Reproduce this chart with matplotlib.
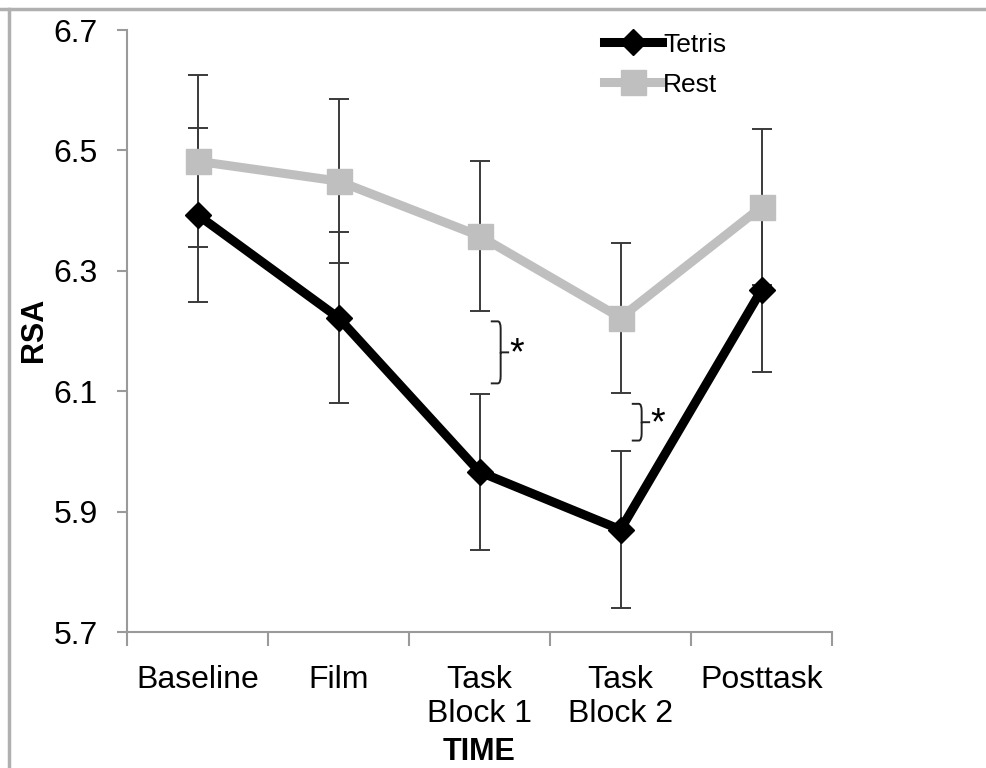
import matplotlib.pyplot as plt
from matplotlib.lines import Line2D
from matplotlib.path import Path
from matplotlib.patches import PathPatch
import numpy as np

plt.rcParams['font.family'] = ['Liberation Sans', 'DejaVu Sans']

# data
phases = ['Baseline', 'Film', 'Task\nBlock 1', 'Task\nBlock 2', 'Posttask']
tetris = [6.393, 6.222, 5.966, 5.870, 6.268]
tetris_err = [0.145, 0.142, 0.129, 0.130, 0.136]
rest = [6.482, 6.449, 6.358, 6.222, 6.406]
rest_err = [0.143, 0.136, 0.124, 0.125, 0.130]
sig_idx = [2, 3]  # phases with a significant difference

x = np.arange(1, len(phases) + 1)

fig = plt.figure(figsize=(9.87, 7.68), dpi=100)
ax = fig.add_axes([127 / 987, 1 - 632 / 768, (832 - 127) / 987, (632 - 30) / 768])

ebar = dict(fmt='none', ecolor='#3a3a3a', elinewidth=1.4, capsize=7, capthick=1.4, zorder=1)
ax.errorbar(x, rest, yerr=rest_err, **ebar)
ax.errorbar(x, tetris, yerr=tetris_err, **ebar)

ax.plot(x, rest, color='#bfbfbf', lw=6.5, marker='s', ms=18, mec='#bfbfbf',
        label='Rest', zorder=2, solid_joinstyle='miter')
ax.plot(x, tetris, color='black', lw=6.5, marker='D', ms=13, label='Tetris',
        zorder=3, solid_joinstyle='miter')

# significance braces between the error bars
for i in sig_idx:
    top = rest[i] - rest_err[i] - 0.018
    bot = tetris[i] + tetris_err[i] + 0.018
    mid = (top + bot) / 2
    xl = x[i] + 0.08
    xr = x[i] + 0.15
    r = 0.012
    verts = [(xl, top), (xr - 0.02, top), (xr, top), (xr, top - r),
             (xr, mid), (xr + 0.06, mid), (xr, mid),
             (xr, bot + r), (xr, bot), (xr - 0.02, bot), (xl, bot)]
    codes = [Path.MOVETO, Path.LINETO, Path.CURVE3, Path.CURVE3,
             Path.LINETO, Path.LINETO, Path.MOVETO,
             Path.LINETO, Path.CURVE3, Path.CURVE3, Path.LINETO]
    ax.add_patch(PathPatch(Path(verts, codes), fill=False, ec='#222222', lw=1.4, zorder=4))
    ax.text(xr + 0.065, mid - 0.004, '*', fontsize=27, ha='left', va='center')

ax.set_xlim(0.5, len(phases) + 0.5)
ax.set_ylim(5.7, 6.7)
ax.set_yticks([5.7, 5.9, 6.1, 6.3, 6.5, 6.7])
ax.set_yticklabels(['5.7', '5.9', '6.1', '6.3', '6.5', '6.7'])
ax.set_xticks(x)
ax.set_xticklabels(phases, linespacing=1.15)
ax.set_xticks(np.arange(0.5, len(phases) + 1, 1), minor=True)

for s in ['top', 'right']:
    ax.spines[s].set_visible(False)
for s in ['left', 'bottom']:
    ax.spines[s].set_color('#9a9a9a')
    ax.spines[s].set_linewidth(1.5)

ax.tick_params(axis='y', labelsize=23, length=7, width=1.5, color='#9a9a9a', pad=14)
ax.tick_params(axis='x', which='major', labelsize=23, length=0, pad=24)
ax.tick_params(axis='x', which='minor', length=10, width=1.5, color='#9a9a9a')

ax.set_ylabel('RSA', fontsize=22, fontweight='bold', va='center')
ax.yaxis.set_label_coords(-0.132, 0.502)
ax.set_xlabel('TIME', fontsize=22, fontweight='bold', va='center')
ax.xaxis.set_label_coords(0.5, -0.199)

handles = [Line2D([], [], color='black', lw=6.5, marker='D', ms=13),
           Line2D([], [], color='#bfbfbf', lw=6.5, marker='s', ms=18)]
ax.legend(handles, ['Tetris', 'Rest'], loc='upper left', bbox_to_anchor=(0.661, 1.013),
          frameon=False, fontsize=19, handlelength=2.2, handletextpad=0.05,
          labelspacing=0.6, borderaxespad=0)

# gray frame on top and left of the picture
fig.add_artist(Line2D([0, 1], [1 - 9 / 768, 1 - 9 / 768], color='#b0b0b0', lw=2.5))
fig.add_artist(Line2D([9 / 987, 9 / 987], [0, 1 - 9 / 768], color='#b0b0b0', lw=2.5))

fig.savefig('out.png', dpi=100)
